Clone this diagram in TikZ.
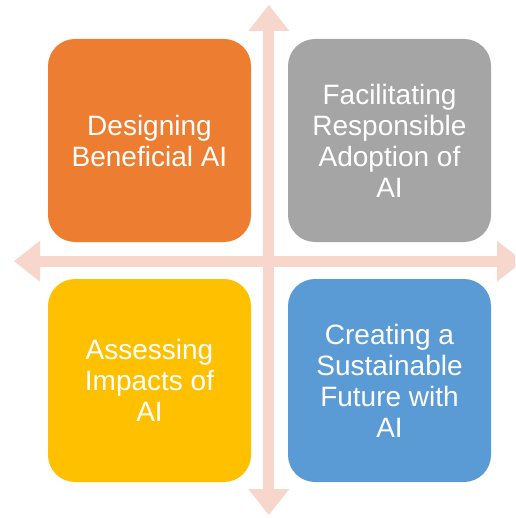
\documentclass[tikz,border=0pt]{standalone}
\usepackage{fontspec}
\setsansfont{Liberation Sans}
\usepackage{tikz}
\usetikzlibrary{arrows.meta, positioning}

\definecolor{aiorange}{RGB}{237,125,49}
\definecolor{aigray}{RGB}{165,165,165}
\definecolor{aiyellow}{RGB}{255,192,0}
\definecolor{aiblue}{RGB}{91,155,213}
\definecolor{axispink}{RGB}{247,214,204}

\begin{document}
\begin{tikzpicture}[
    x=1pt, y=-1pt,
    tile/.style={minimum width=203pt, minimum height=203pt,
                 rounded corners=27pt, align=center, text=white,
                 font=\sffamily\fontsize{28}{31}\selectfont},
    axis/.style={draw=axispink, line width=11pt,
                 {Triangle[width=41pt, length=26pt, line width'=0pt]}-{Triangle[width=41pt, length=26pt, line width'=0pt]}}
  ]
  \useasboundingbox (0,0) rectangle (515,518);
  \clip (0,0) rectangle (515,518);

  % Cross of axes
  \coordinate (top)    at (268.8, 5);
  \coordinate (bottom) at (268.8, 515);
  \coordinate (left)   at (14, 261.2);
  \coordinate (right)  at (523, 261.2);
  \draw[axis] (top) -- (bottom);
  \draw[axis] (left) -- (right);

  % Quadrants
  \node[tile, fill=aiorange] (design)  at (149.5, 140.5)
    {Designing\\Beneficial AI};
  \node[tile, fill=aigray]   (adopt)   at (389.5, 140.5)
    {Facilitating\\Responsible\\Adoption of\\AI};
  \node[tile, fill=aiyellow] (assess)  at (149.5, 380.5)
    {Assessing\\Impacts of\\AI};
  \node[tile, fill=aiblue]   (future)  at (389.5, 380.5)
    {Creating a\\Sustainable\\Future with\\AI};
\end{tikzpicture}
\end{document}
